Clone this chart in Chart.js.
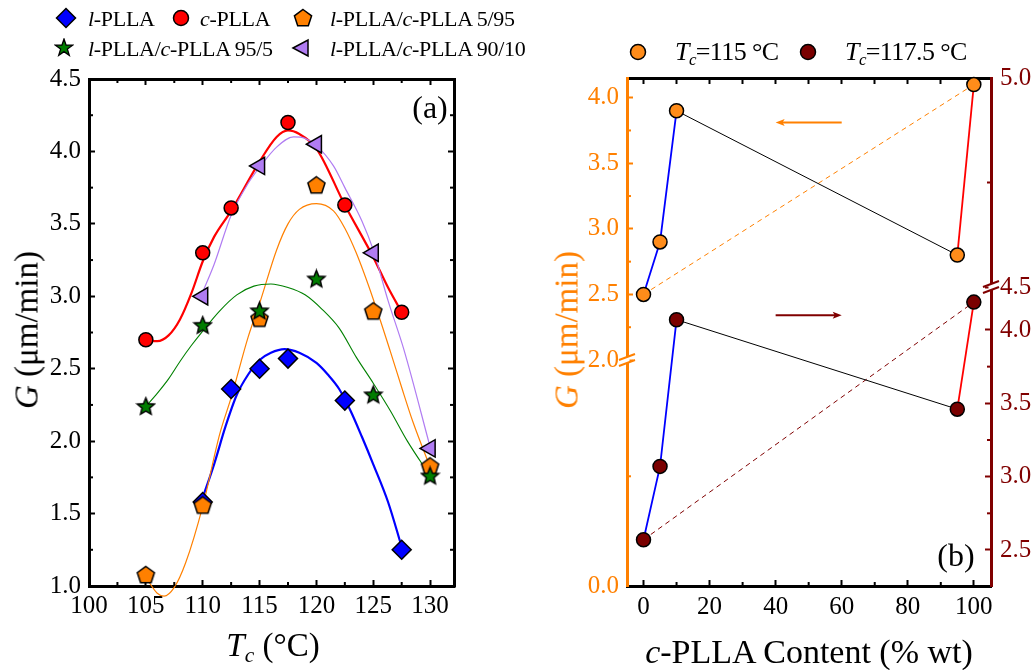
<!DOCTYPE html>
<html>
<head>
<meta charset="utf-8">
<script src="https://cdn.jsdelivr.net/npm/chart.js@4.4.1/dist/chart.umd.min.js"></script>
<style>
  body { margin: 0; background: #fff; width: 1034px; height: 670px; position: relative; overflow: hidden;
         font-family: "Liberation Serif", "Times New Roman", serif; color: #000; }
  canvas { position: absolute; top: 0; }
  #chartA { left: 0; }
  #chartB { left: 520px; }
  .t { position: absolute; white-space: nowrap; line-height: 1; transform: translate(0, -50%); }
  .c { position: absolute; white-space: nowrap; line-height: 1; transform: translate(-50%, -50%); }
  .r { position: absolute; white-space: nowrap; line-height: 1; transform: translate(-50%, -50%) rotate(-90deg); }
  .m { position: absolute; transform: translate(-50%, -50%); }
  .leg { font-size: 22px; letter-spacing: -0.3px; }
  .legb { font-size: 26px; letter-spacing: -0.6px; }
  .title { font-size: 33px; }
  sub { font-size: 0.65em; vertical-align: -0.3em; line-height: 0; }
</style>
</head>
<body>
<canvas id="chartA" width="480" height="670"></canvas>
<canvas id="chartB" width="514" height="670"></canvas>

<!-- legend, panel a -->
<svg class="m" style="left:66px;top:18px" width="22" height="22"><polygon points="11,1.5 20.5,11 11,20.5 1.5,11" fill="#0000ff" stroke="#000" stroke-width="1.5"/></svg>
<span class="t leg" style="left:88px;top:19px"><i>l</i>-PLLA</span>
<svg class="m" style="left:181px;top:18px" width="18" height="18"><circle cx="9" cy="9" r="7.5" fill="#ff0000" stroke="#000" stroke-width="1.5"/></svg>
<span class="t leg" style="left:200px;top:19px"><i>c</i>-PLLA</span>
<svg class="m" style="left:303px;top:18px" width="20" height="20"><polygon points="10,1.5 18.6,7.8 15.3,17.8 4.7,17.8 1.4,7.8" fill="#ff8000" stroke="#000" stroke-width="1.5"/></svg>
<span class="t leg" style="left:330px;top:19px"><i>l</i>-PLLA/<i>c</i>-PLLA 5/95</span>
<svg class="m" style="left:64px;top:48px" width="20" height="20"><polygon points="10,1 12.1,7.1 18.6,7.2 13.4,11.1 15.3,17.3 10,13.6 4.7,17.3 6.6,11.1 1.4,7.2 7.9,7.1" fill="#007d00" stroke="#000" stroke-width="1.3"/></svg>
<span class="t leg" style="left:88px;top:49px"><i>l</i>-PLLA/<i>c</i>-PLLA 95/5</span>
<svg class="m" style="left:301px;top:48px" width="20" height="20"><polygon points="2,10 17,2 17,18" fill="#b07cf2" stroke="#000" stroke-width="1.5"/></svg>
<span class="t leg" style="left:330px;top:49px"><i>l</i>-PLLA/<i>c</i>-PLLA 90/10</span>

<!-- legend, panel b -->
<svg class="m" style="left:638px;top:52px" width="18" height="18"><circle cx="9" cy="9" r="7.5" fill="#ff8c1a" stroke="#000" stroke-width="1.5"/></svg>
<span class="t legb" style="left:675px;top:52px"><i>T<sub>c</sub></i>=115 °C</span>
<svg class="m" style="left:808px;top:52px" width="18" height="18"><circle cx="9" cy="9" r="7.5" fill="#7a0000" stroke="#000" stroke-width="1.5"/></svg>
<span class="t legb" style="left:845px;top:52px"><i>T<sub>c</sub></i>=117.5 °C</span>

<!-- axis titles and panel tags -->
<span class="r title" style="left:27px;top:330px"><i>G</i> (μm/min)</span>
<span class="c title" style="left:273px;top:645px"><i>T<sub>c</sub></i> (°C)</span>
<span class="r title" style="left:567px;top:330px;color:#ff8000"><i>G</i> (μm/min)</span>
<span class="c title" style="left:809px;top:652px;font-size:34px"><i>c</i>-PLLA Content (% wt)</span>
<span class="c" style="left:430px;top:107px;font-size:32px">(a)</span>
<span class="c" style="left:956px;top:555px;font-size:32px">(b)</span>

<script>
// ---------- panel (a): growth rate vs crystallization temperature ----------
const lPllaTc = [110, 112.5, 115, 117.5, 122.5, 127.5];
const lPllaG = [1.58, 2.36, 2.50, 2.57, 2.28, 1.25];
const cPllaTc = [105, 110, 112.5, 117.5, 122.5, 127.5];
const cPllaG = [2.70, 3.30, 3.61, 4.20, 3.63, 2.89];
const b595Tc = [105, 110, 115, 120, 125, 130];
const b595G = [1.08, 1.56, 2.85, 3.77, 2.90, 1.83];
const b955Tc = [105, 110, 115, 120, 125, 130];
const b955G = [2.24, 2.80, 2.90, 3.12, 2.32, 1.76];
const b9010Tc = [110, 115, 120, 125, 130];
const b9010G = [3.00, 3.90, 4.05, 3.30, 1.95];

// fitted curves
const lPllaFitTc = [110, 111, 112, 113, 114, 115, 116, 117.2, 118.5, 120, 121, 122, 123, 124, 125, 126.3, 127.5];
const lPllaFitG = [1.61, 1.84, 2.10, 2.32, 2.46, 2.56, 2.61, 2.635, 2.61, 2.54, 2.46, 2.36, 2.21, 2.03, 1.84, 1.58, 1.27];
const cPllaFitTc = [105, 106, 107, 108, 109, 110, 111, 112.5, 115, 116.5, 117.5, 118.5, 120, 122.5, 125, 126.3, 127.5];
const cPllaFitG = [2.70, 2.69, 2.73, 2.84, 3.02, 3.24, 3.41, 3.59, 3.93, 4.10, 4.145, 4.12, 4.02, 3.63, 3.27, 3.06, 2.89];
const b595FitTc = [105, 106, 106.6, 107.5, 108.5, 110, 111.5, 112.5, 114, 115, 116.5, 117.5, 118.5, 120, 121.5, 122.5, 123.5, 125, 126.5, 127.5, 128.5, 130];
const b595FitG = [1.06, 0.95, 0.93, 0.99, 1.16, 1.55, 2.05, 2.30, 2.72, 2.95, 3.32, 3.50, 3.60, 3.64, 3.59, 3.47, 3.30, 2.98, 2.62, 2.37, 2.13, 1.82];
const b955FitTc = [105, 106, 107, 108, 109, 110, 111.5, 113, 114.5, 116, 117.5, 119, 120.5, 122, 123.5, 125, 126.5, 128, 130];
const b955FitG = [2.24, 2.33, 2.43, 2.55, 2.66, 2.76, 2.90, 3.01, 3.07, 3.085, 3.06, 3.01, 2.91, 2.78, 2.58, 2.40, 2.21, 2.00, 1.76];
const b9010FitTc = [110, 111, 112.5, 114, 115, 116.5, 118, 119, 120, 121.5, 122.5, 124, 125, 126.3, 127.7, 130];
const b9010FitG = [3.03, 3.22, 3.56, 3.78, 3.89, 4.03, 4.10, 4.09, 4.04, 3.90, 3.75, 3.52, 3.32, 2.97, 2.63, 1.96];

const tcTicks = [100, 105, 110, 115, 120, 125, 130];
const tcMinor = [102.5, 107.5, 112.5, 117.5, 122.5, 127.5];
const gTicks = [1.0, 1.5, 2.0, 2.5, 3.0, 3.5, 4.0, 4.5];
const gMinor = [1.25, 1.75, 2.25, 2.75, 3.25, 3.75, 4.25];

// ---------- panel (b): growth rate vs c-PLLA content ----------
const content = [0, 5, 10, 95, 100];
const g115 = [2.50, 2.90, 3.90, 2.80, 4.10];
const g1175 = [2.57, 3.07, 4.07, 3.46, 4.19];

const contentTicks = [0, 20, 40, 60, 80, 100];
const contentMinor = [10, 30, 50, 70, 90];
const contentTopTicks = [0, 10, 20, 30, 40, 50, 60, 70, 80, 90, 100];
const leftUpperTicks = [2.0, 2.5, 3.0, 3.5, 4.0];
const leftUpperMinor = [2.25, 2.75, 3.25, 3.75];
const leftLowerTicks = [0.0];
const leftLowerMinor = [0.5];
const rightUpperTicks = [4.5, 5.0];
const rightUpperMinor = [4.75];
const rightLowerTicks = [2.5, 3.0, 3.5, 4.0];
const rightLowerMinor = [2.75, 3.25, 3.75];

const FONT = "'Liberation Serif', 'Times New Roman', serif";
const ORANGE = '#ff8000';
const DARKRED = '#800000';

function pts(xs, ys) {
  return xs.map((x, i) => ({ x, y: ys[i] }));
}

// filled marker drawn on a small canvas (pentagon or five-point star)
function marker(shape, fill, size) {
  const c = document.createElement('canvas');
  c.width = c.height = size;
  const g = c.getContext('2d');
  const r = size / 2 - 1.5;
  const n = shape === 'star' ? 10 : 5;
  const cy = size / 2 + (shape === 'star' ? 0.5 : 1);
  g.beginPath();
  for (let i = 0; i < n; i++) {
    const a = -Math.PI / 2 + i * 2 * Math.PI / n;
    const rr = shape === 'star' && i % 2 ? r * 0.45 : r;
    g.lineTo(size / 2 + rr * Math.cos(a), cy + rr * Math.sin(a));
  }
  g.closePath();
  g.fillStyle = fill;
  g.fill();
  g.lineWidth = 1.5;
  g.strokeStyle = '#000';
  g.stroke();
  return c;
}

// short inward ticks between the labelled ones
function minorTicks(list) {
  return {
    id: 'minorTicks',
    afterDraw(chart) {
      const ctx = chart.ctx;
      list.forEach(m => {
        const s = chart.scales[m.scale];
        ctx.save();
        ctx.strokeStyle = m.color;
        ctx.lineWidth = 2;
        m.values.forEach(v => {
          const p = s.getPixelForValue(v);
          ctx.beginPath();
          if (s.isHorizontal()) {
            const y = s.position === 'top' ? s.bottom : s.top;
            const d = s.position === 'top' ? 4 : -4;
            ctx.moveTo(p, y);
            ctx.lineTo(p, y + d);
          } else {
            const x = s.position === 'left' ? s.right : s.left;
            const d = s.position === 'left' ? 4 : -4;
            ctx.moveTo(x, p);
            ctx.lineTo(x + d, p);
          }
          ctx.stroke();
        });
        ctx.restore();
      });
    }
  };
}

function axis(position, min, max, ticks, opts = {}) {
  const color = opts.color || '#000';
  const horizontal = position === 'top' || position === 'bottom';
  return {
    type: 'linear',
    position,
    min,
    max,
    stack: opts.stack,
    stackWeight: opts.weight,
    afterBuildTicks: s => { s.ticks = ticks.map(v => ({ value: v })); },
    afterFit: s => { if (horizontal) s.height = opts.size; else s.width = opts.size; },
    grid: { drawOnChartArea: false, tickLength: -6, tickWidth: 2, tickColor: color },
    border: { color, width: 3 },
    ticks: {
      display: !opts.hideLabels,
      color,
      autoSkip: false,
      maxRotation: 0,
      padding: opts.padding || 12,
      font: { family: FONT, size: 25 },
      callback: opts.fmt || (v => v.toFixed(1))
    }
  };
}

const pentagon = marker('pentagon', '#ff8000', 21);
const star = marker('star', '#007d00', 21);

const curve = (xs, ys, color, width) => ({
  data: pts(xs, ys),
  showLine: true,
  borderColor: color,
  borderWidth: width,
  pointRadius: 0,
  cubicInterpolationMode: 'monotone',
  clip: false
});

const dot = (xs, ys, fill, style, radius, extra = {}) => Object.assign({
  data: pts(xs, ys),
  pointStyle: style,
  pointRadius: radius,
  pointBackgroundColor: fill,
  pointBorderColor: '#000',
  pointBorderWidth: 1.5,
  showLine: false,
  clip: false
}, extra);

new Chart(document.getElementById('chartA'), {
  type: 'scatter',
  data: {
    datasets: [
      dot(b9010Tc, b9010G, '#b07cf2', 'triangle', 10, { pointRotation: -90 }),
      dot(b955Tc, b955G, '#007d00', star, 10),
      dot(b595Tc, b595G, '#ff8000', pentagon, 10),
      dot(cPllaTc, cPllaG, '#ff0000', 'circle', 7),
      dot(lPllaTc, lPllaG, '#0000ff', 'rectRot', 9.5),
      curve(b9010FitTc, b9010FitG, '#b07cf2', 1.2),
      curve(b955FitTc, b955FitG, '#008000', 1.1),
      curve(b595FitTc, b595FitG, '#ff8000', 1.2),
      curve(cPllaFitTc, cPllaFitG, '#ff0000', 2.2),
      curve(lPllaFitTc, lPllaFitG, '#0000ff', 2.2)
    ]
  },
  options: {
    responsive: false,
    animation: false,
    events: [],
    layout: { padding: 0 },
    plugins: { legend: { display: false }, tooltip: { enabled: false } },
    scales: {
      x: axis('bottom', 100, 132.1, tcTicks, { size: 84, padding: 11, fmt: v => String(v) }),
      xTop: axis('top', 100, 132.1, tcTicks, { size: 79, hideLabels: true }),
      y: axis('left', 1.0, 4.5, gTicks, { size: 89, padding: 14 }),
      yRight: axis('right', 1.0, 4.5, gTicks, { size: 26, hideLabels: true })
    }
  },
  plugins: [minorTicks([
    { scale: 'x', values: tcMinor, color: '#000' },
    { scale: 'xTop', values: tcMinor, color: '#000' },
    { scale: 'y', values: gMinor, color: '#000' },
    { scale: 'yRight', values: gMinor, color: '#000' }
  ])]
});

// line segments between compositions: blue for the l-rich side, black across, red for the c-rich side
const segColors = ['#0000ff', '#0000ff', '#000000', '#ff0000'];
const segWidths = [1.8, 1.8, 1, 1.8];

const joined = (ys, fill, axisId) => ({
  data: pts(content, ys),
  yAxisID: axisId,
  showLine: true,
  borderWidth: 1.8,
  segment: {
    borderColor: c => segColors[c.p0DataIndex],
    borderWidth: c => segWidths[c.p0DataIndex]
  },
  pointRadius: 7,
  pointBackgroundColor: fill,
  pointBorderColor: '#000',
  pointBorderWidth: 1.5,
  clip: false
});

const dashed = (ys, color, axisId) => ({
  data: [{ x: content[0], y: ys[0] }, { x: content[content.length - 1], y: ys[ys.length - 1] }],
  yAxisID: axisId,
  showLine: true,
  borderColor: color,
  borderWidth: 1,
  borderDash: [5, 4],
  pointRadius: 0,
  clip: false
});

// arrows pointing each series to its own axis
const arrows = [
  { from: 60, to: 40, y: 3.81, axisId: 'yL', color: ORANGE },
  { from: 40, to: 60, y: 4.10, axisId: 'yR', color: DARKRED }
];

const arrowPlugin = {
  id: 'arrows',
  afterDatasetsDraw(chart) {
    const ctx = chart.ctx;
    const xs = chart.scales.x;
    arrows.forEach(a => {
      const y = chart.scales[a.axisId].getPixelForValue(a.y);
      const x0 = xs.getPixelForValue(a.from);
      const x1 = xs.getPixelForValue(a.to);
      const dir = Math.sign(x1 - x0);
      ctx.save();
      ctx.strokeStyle = a.color;
      ctx.fillStyle = a.color;
      ctx.lineWidth = 2;
      ctx.beginPath();
      ctx.moveTo(x0, y);
      ctx.lineTo(x1 - dir * 6, y);
      ctx.stroke();
      ctx.beginPath();
      ctx.moveTo(x1, y);
      ctx.lineTo(x1 - dir * 9, y - 3.5);
      ctx.lineTo(x1 - dir * 7, y);
      ctx.lineTo(x1 - dir * 9, y + 3.5);
      ctx.closePath();
      ctx.fill();
      ctx.restore();
    });
  }
};

// "//" marks where the two y axes are broken
const breakPlugin = {
  id: 'axisBreaks',
  afterDraw(chart) {
    const { ctx, chartArea, scales } = chart;
    [
      [chartArea.left, scales.yL.bottom, ORANGE],
      [chartArea.right, scales.yR5.bottom, DARKRED]
    ].forEach(([x, y, color]) => {
      ctx.save();
      ctx.fillStyle = '#fff';
      ctx.fillRect(x - 2.5, y - 3, 5, 6);
      ctx.strokeStyle = color;
      ctx.lineWidth = 2;
      [-3, 3].forEach(d => {
        ctx.beginPath();
        ctx.moveTo(x - 8, y + d + 3);
        ctx.lineTo(x + 8, y + d - 3);
        ctx.stroke();
      });
      ctx.restore();
    });
  }
};

new Chart(document.getElementById('chartB'), {
  type: 'scatter',
  data: {
    datasets: [
      joined(g115, '#ff8c1a', 'yL'),
      joined(g1175, '#7a0000', 'yR'),
      dashed(g115, ORANGE, 'yL'),
      dashed(g1175, DARKRED, 'yR')
    ]
  },
  options: {
    responsive: false,
    animation: false,
    events: [],
    layout: { padding: 0 },
    plugins: { legend: { display: false }, tooltip: { enabled: false } },
    scales: {
      x: axis('bottom', -5, 105.2, contentTicks, { size: 84, padding: 12, fmt: v => String(v) }),
      xTop: axis('top', -5, 105.2, contentTopTicks, { size: 78, hideLabels: true }),
      // left boxes are laid out in reverse order, so the lower segment is listed first
      yL0: axis('left', 0, 1.03, leftLowerTicks, { size: 107, padding: 14, color: ORANGE, stack: 'left', weight: 226 }),
      yL: axis('left', 2.0, 4.15, leftUpperTicks, { size: 107, padding: 14, color: ORANGE, stack: 'left', weight: 282 }),
      yR5: axis('right', 4.5, 5.0, rightUpperTicks, { size: 43, padding: 15, color: DARKRED, stack: 'right', weight: 209 }),
      yR: axis('right', 2.2545, 4.293, rightLowerTicks, { size: 43, padding: 15, color: DARKRED, stack: 'right', weight: 299 })
    }
  },
  plugins: [
    minorTicks([
      { scale: 'x', values: contentMinor, color: '#000' },
      { scale: 'yL', values: leftUpperMinor, color: ORANGE },
      { scale: 'yL0', values: leftLowerMinor, color: ORANGE },
      { scale: 'yR5', values: rightUpperMinor, color: DARKRED },
      { scale: 'yR', values: rightLowerMinor, color: DARKRED }
    ]),
    arrowPlugin,
    breakPlugin
  ]
});
</script>
</body>
</html>
